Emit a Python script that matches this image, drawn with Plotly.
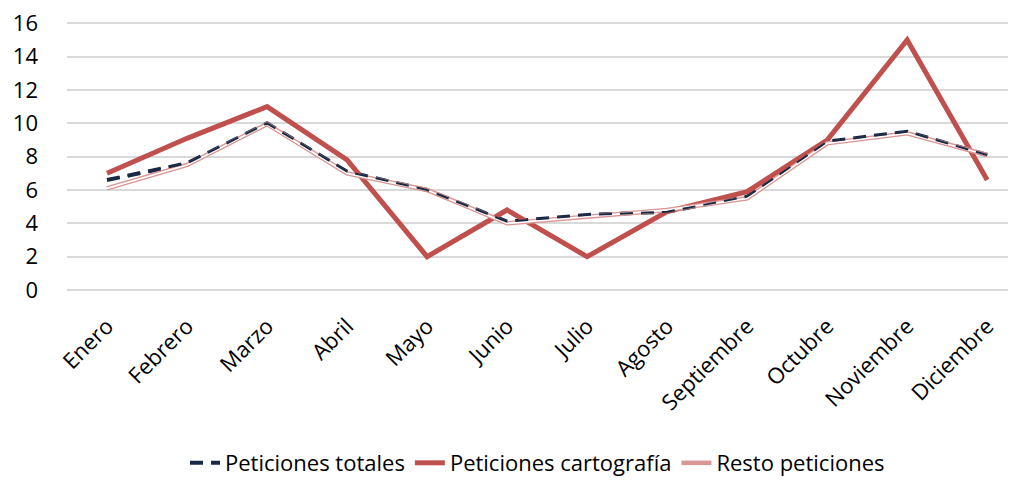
import plotly.graph_objects as go

meses = ["Enero", "Febrero", "Marzo", "Abril", "Mayo", "Junio", "Julio",
         "Agosto", "Septiembre", "Octubre", "Noviembre", "Diciembre"]
totales = [6.6, 7.6, 10.0, 7.1, 6.0, 4.1, 4.5, 4.7, 5.6, 8.9, 9.5, 8.1]
cartografia = [7.0, 9.1, 11.0, 7.8, 2.0, 4.8, 2.0, 4.7, 5.9, 9.0, 15.0, 6.6]
resto = [6.1, 7.5, 9.95, 7.0, 6.0, 4.0, 4.4, 4.8, 5.5, 8.8, 9.4, 8.1]

NAVY = "#1a2a45"
RED = "#c0504d"
PINK = "#d99694"
FONT = "Open Sans"

fig = go.Figure()
fig.add_trace(go.Scatter(x=meses, y=totales, mode="lines", name="Peticiones totales",
                         line=dict(color=NAVY, width=4, dash="13px,8px")))
fig.add_trace(go.Scatter(x=meses, y=cartografia, mode="lines", name="Peticiones cartografía",
                         line=dict(color=RED, width=5)))
fig.add_trace(go.Scatter(x=meses, y=resto, mode="lines", name="Resto peticiones",
                         line=dict(color=PINK, width=4.5)))
fig.add_trace(go.Scatter(x=meses, y=resto, mode="lines", showlegend=False, hoverinfo="skip",
                         line=dict(color="white", width=1.8)))
fig.add_trace(go.Scatter(x=meses, y=totales, mode="lines", showlegend=False, hoverinfo="skip",
                         line=dict(color=NAVY, width=2, dash="13px,8px")))

fig.update_layout(
    width=1000, height=472,
    margin=dict(l=59, r=0, t=12, b=190),
    plot_bgcolor="white", paper_bgcolor="white",
    font=dict(family=FONT, size=22, color="#000000"),
    showlegend=True,
    legend=dict(orientation="h", x=0.5, xanchor="center", xref="paper",
                y=0.036, yanchor="middle", yref="container",
                font=dict(family=FONT, size=22), traceorder="normal"),
    xaxis=dict(range=[-0.5, 11.26], tickangle=-45, showgrid=False, zeroline=False,
               showline=False, ticks="", ticklabelstandoff=18, tickfont=dict(size=22),
               automargin=False),
    yaxis=dict(range=[0, 16.2], tickvals=[0, 2, 4, 6, 8, 10, 12, 14, 16],
               showgrid=True, gridcolor="#d9d9d9", gridwidth=1.5,
               zeroline=True, zerolinecolor="#d9d9d9", zerolinewidth=1.5,
               showline=False, ticks="", ticklabelstandoff=28, tickfont=dict(size=22),
               ticklabeloverflow="allow", automargin=False),
)

fig.write_html("out.html")
